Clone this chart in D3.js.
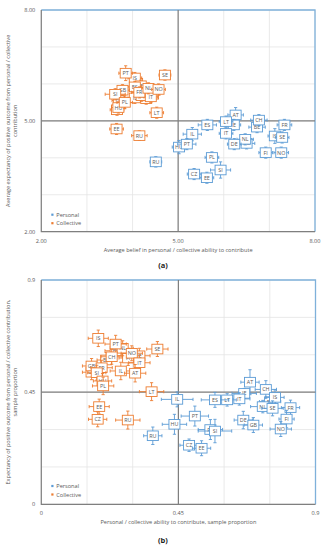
<!DOCTYPE html>
<html><head><meta charset="utf-8">
<script src="https://cdn.jsdelivr.net/npm/d3@7"></script>
<style>body{margin:0;background:#fff;} svg{display:block;font-family:"Open Sans","Noto Sans",sans-serif;}</style>
</head><body><svg id="c" width="326" height="550"></svg>
<script>
// Panel (a): [code, x, y, xErr, yErr]
const aPersonal = [
 ["BE",6.73,4.83,0.18,0.15],["AT",6.26,5.16,0.17,0.2],["IE",6.22,4.89,0.15,0.15],["LT",6.05,4.98,0.15,0.15],
 ["CH",6.77,5.02,0.18,0.15],["FR",7.33,4.89,0.16,0.15],["ES",5.64,4.89,0.2,0.15],["IL",5.31,4.64,0.2,0.18],
 ["IT",6.05,4.66,0.15,0.15],["GB",6.50,4.39,0.18,0.15],["NL",6.47,4.50,0.18,0.15],["DE",6.23,4.37,0.15,0.15],
 ["IS",7.12,4.59,0.15,0.2],["SE",7.28,4.55,0.15,0.15],["FI",6.92,4.14,0.15,0.15],["NO",7.26,4.14,0.16,0.15],
 ["HU",5.02,4.29,0.15,0.18],["PT",5.19,4.37,0.2,0.15],["PL",5.74,4.01,0.15,0.15],["SI",5.93,3.67,0.22,0.22],
 ["CZ",5.35,3.56,0.15,0.15],["EE",5.63,3.46,0.15,0.15],["RU",4.51,3.89,0.13,0.14]
];
const aCollective = [
 ["AT",4.30,5.60,0.15,0.15],["IL",4.05,5.62,0.15,0.15],["BE",4.20,5.68,0.15,0.15],["FI",4.45,5.72,0.15,0.15],
 ["CZ",3.66,5.30,0.15,0.15],["DE",3.70,5.55,0.15,0.15],["CH",4.10,6.02,0.15,0.15],["IS",4.05,6.16,0.15,0.15],
 ["IE",4.18,5.95,0.15,0.15],["ES",4.05,5.92,0.15,0.15],["PT",3.85,6.29,0.15,0.2],["SE",4.71,6.24,0.13,0.14],
 ["GB",3.78,5.83,0.15,0.15],["SI",3.62,5.72,0.22,0.15],["HU",3.69,5.36,0.15,0.15],["PL",3.83,5.50,0.17,0.17],
 ["IT",4.40,5.65,0.15,0.15],["FR",4.15,5.77,0.17,0.15],["NL",4.35,5.88,0.15,0.15],["NO",4.57,5.85,0.15,0.15],
 ["LT",4.53,5.22,0.15,0.15],["EE",3.65,4.78,0.15,0.15],["RU",4.15,4.60,0.17,0.13]
];
// Panel (b)
const bPersonal = [
 ["BE",0.751,0.412,0.035,0.03],["AT",0.685,0.490,0.03,0.05],["IE",0.666,0.445,0.04,0.02],["CH",0.737,0.461,0.035,0.035],
 ["IS",0.767,0.429,0.03,0.03],["IT",0.650,0.423,0.035,0.025],["LT",0.610,0.419,0.03,0.025],["ES",0.570,0.419,0.045,0.03],
 ["IL",0.446,0.421,0.052,0.03],["NL",0.727,0.392,0.04,0.025],["SE",0.759,0.385,0.035,0.03],["FR",0.818,0.388,0.03,0.03],
 ["FI",0.805,0.342,0.025,0.035],["DE",0.663,0.338,0.03,0.035],["GB",0.696,0.318,0.03,0.03],["NO",0.786,0.302,0.035,0.03],
 ["PT",0.504,0.354,0.045,0.04],["HU",0.437,0.321,0.04,0.04],["PL",0.555,0.300,0.04,0.04],["SI",0.570,0.294,0.055,0.047],
 ["CZ",0.485,0.237,0.03,0.025],["EE",0.526,0.225,0.03,0.03],["RU",0.366,0.275,0.03,0.035]
];
const bCollective = [
 ["FI",0.285,0.587,0.03,0.03],["BE",0.213,0.579,0.03,0.03],["ES",0.244,0.616,0.035,0.03],["NL",0.267,0.626,0.035,0.03],
 ["IE",0.322,0.596,0.035,0.03],["IS",0.187,0.666,0.033,0.033],["PT",0.244,0.643,0.035,0.035],["NO",0.297,0.606,0.035,0.03],
 ["SE",0.381,0.623,0.035,0.03],["CH",0.231,0.592,0.035,0.03],["IT",0.322,0.568,0.035,0.03],["DE",0.165,0.530,0.03,0.03],
 ["GB",0.165,0.555,0.03,0.03],["FR",0.198,0.548,0.035,0.03],["SI",0.182,0.528,0.03,0.03],["IL",0.261,0.535,0.035,0.035],
 ["AT",0.308,0.526,0.035,0.035],["HU",0.201,0.495,0.03,0.03],["PL",0.203,0.475,0.035,0.035],["LT",0.362,0.452,0.04,0.036],
 ["EE",0.190,0.392,0.033,0.03],["CZ",0.185,0.341,0.03,0.03],["RU",0.284,0.338,0.04,0.036]
];
const aTicks = [2,5,8], aGrid = [2,3,4,5,6,7,8];
const bTicks = [0,0.45,0.9], bGrid = [0,0.15,0.3,0.45,0.6,0.75,0.9];
const seriesNames = ["Personal","Collective"];
const colors = ["#5b9bd5","#ed7d31"];

const svg = d3.select("#c");

function panel(cfg){
  const x = d3.scaleLinear().domain(cfg.dom).range([cfg.l, cfg.r]);
  const y = d3.scaleLinear().domain(cfg.dom).range([cfg.b, cfg.t]);
  const g = svg.append("g");
  // grid
  g.selectAll(".gx").data(cfg.grid).join("line").attr("x1",d=>x(d)).attr("x2",d=>x(d)).attr("y1",cfg.t).attr("y2",cfg.b).attr("stroke","#e4e4e4").attr("stroke-width",0.8);
  g.selectAll(".gy").data(cfg.grid).join("line").attr("y1",d=>y(d)).attr("y2",d=>y(d)).attr("x1",cfg.l).attr("x2",cfg.r).attr("stroke","#e4e4e4").attr("stroke-width",0.8);
  // top/right border
  g.append("path").attr("d",`M${cfg.l},${cfg.t}H${cfg.r}V${cfg.b}`).attr("fill","none").attr("stroke","#7fb1da").attr("stroke-width",1.3);
  // axes
  g.append("path").attr("d",`M${cfg.l},${cfg.t}V${cfg.b}H${cfg.r}`).attr("fill","none").attr("stroke","#7f7f7f").attr("stroke-width",1.2);
  g.append("line").attr("x1",x(cfg.mid)).attr("x2",x(cfg.mid)).attr("y1",cfg.t).attr("y2",cfg.b).attr("stroke","#7f7f7f").attr("stroke-width",1.2);
  g.append("line").attr("y1",y(cfg.mid)).attr("y2",y(cfg.mid)).attr("x1",cfg.l).attr("x2",cfg.r).attr("stroke","#7f7f7f").attr("stroke-width",1.2);
  // tick labels
  g.selectAll(".ty").data(cfg.ticks).join("text").attr("x",cfg.l-6).attr("y",d=>y(d)+2).attr("text-anchor","end")
    .attr("font-size",5.6).attr("fill","#595959").text(cfg.fmt);
  g.selectAll(".tx").data(cfg.ticks).join("text").attr("x",d=>x(d)).attr("y",cfg.b+11).attr("text-anchor","middle")
    .attr("font-size",5.6).attr("fill","#595959").text(cfg.fmt);
  // axis titles
  g.append("text").attr("x",(cfg.l+cfg.r)/2).attr("y",cfg.xTitleY).attr("text-anchor","middle").attr("font-size",5.6).attr("fill","#595959").text(cfg.xTitle);
  const yc = (cfg.t+cfg.b)/2;
  cfg.yTitle.forEach((s,i)=>{
    g.append("text").attr("transform",`translate(${cfg.yTitleX[i]},${yc}) rotate(-90)`).attr("text-anchor","middle")
     .attr("font-size",5.6).attr("fill","#595959").text(s);
  });
  // series
  cfg.series.forEach((data,si)=>{
    const c = colors[si];
    const sg = g.append("g");
    data.forEach(d=>{
      const px=x(d[1]), py=y(d[2]);
      const x0=x(d[1]-d[3]), x1=x(d[1]+d[3]), y0=y(d[2]-d[4]), y1=y(d[2]+d[4]);
      const pg = sg.append("g");
      pg.append("line").attr("x1",x0).attr("x2",x1).attr("y1",py).attr("y2",py).attr("stroke",c).attr("stroke-width",0.9);
      pg.append("line").attr("x1",px).attr("x2",px).attr("y1",y0).attr("y2",y1).attr("stroke",c).attr("stroke-width",0.9);
      [x0,x1].forEach(v=>pg.append("line").attr("x1",v).attr("x2",v).attr("y1",py-1.6).attr("y2",py+1.6).attr("stroke",c).attr("stroke-width",0.9));
      [y0,y1].forEach(v=>pg.append("line").attr("y1",v).attr("y2",v).attr("x1",px-1.6).attr("x2",px+1.6).attr("stroke",c).attr("stroke-width",0.9));
      pg.append("rect").attr("x",px-5.5).attr("y",py-4.8).attr("width",11).attr("height",9.6).attr("fill","#fff").attr("stroke",c).attr("stroke-width",0.9);
      pg.append("text").attr("x",px).attr("y",py+2).attr("text-anchor","middle").attr("font-size",5.4).attr("fill","#595959").text(d[0]);
    });
  });
  // legend
  seriesNames.forEach((n,i)=>{
    const ly = cfg.legY + i*8.5;
    g.append("rect").attr("x",cfg.l+10).attr("y",ly-1.1).attr("width",2.2).attr("height",2.2).attr("fill",colors[i]);
    g.append("text").attr("x",cfg.l+15).attr("y",ly+2).attr("font-size",5.6).attr("fill","#595959").text(n);
  });
  svg.append("text").attr("x",163).attr("y",cfg.capY).attr("text-anchor","middle").attr("font-size",7.5).attr("font-weight","bold").attr("fill","#222").text(cfg.cap);
}

panel({dom:[2,8], l:41.3, r:315, t:10, b:231.7, mid:5, grid:aGrid, ticks:aTicks, fmt:d3.format(".2f"),
  xTitle:"Average belief in personal / collective ability to contribute", xTitleY:252,
  yTitle:["Average expectancy of positive outcome from personal / collective","contribution"], yTitleX:[10,16.5],
  series:[aPersonal,aCollective], legY:214.7, cap:"(a)", capY:268});
panel({dom:[0,0.9], l:41.3, r:315.5, t:280, b:504.3, mid:0.45, grid:bGrid, ticks:bTicks, fmt:d=>String(d),
  xTitle:"Personal / collective ability to contribute,  sample proportion", xTitleY:524,
  yTitle:["Expectancy of positive outcome from personal / collective contribution,","sample proportion"], yTitleX:[10,16.5],
  series:[bPersonal,bCollective], legY:486, cap:"(b)", capY:543});
</script></body></html>
